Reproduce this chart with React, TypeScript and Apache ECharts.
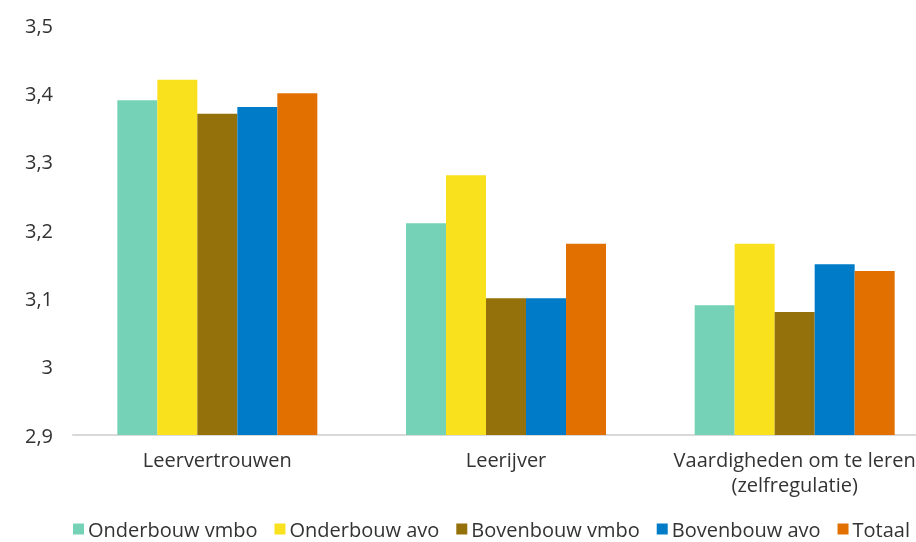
import React, { useEffect, useRef } from "react";
import * as echarts from "echarts";

const categories = ["Leervertrouwen", "Leerijver", "Vaardigheden om te leren\n(zelfregulatie)"];
const seriesNames = ["Onderbouw vmbo", "Onderbouw avo", "Bovenbouw vmbo", "Bovenbouw avo", "Totaal"];
const onderbouwVmbo = [3.39, 3.21, 3.09];
const onderbouwAvo = [3.42, 3.28, 3.18];
const bovenbouwVmbo = [3.37, 3.1, 3.08];
const bovenbouwAvo = [3.38, 3.1, 3.15];
const totaal = [3.4, 3.18, 3.14];
const yTickLabels = ["2,9", "3", "3,1", "3,2", "3,3", "3,4", "3,5"];
const colors = ["#76D2B6", "#F9E11E", "#94710A", "#007BC7", "#E17000"];

const FONT = "'Open Sans', 'Noto Sans', sans-serif";

export default function App() {
  const ref = useRef<HTMLDivElement>(null);
  useEffect(() => {
    if (!ref.current) return;
    const chart = echarts.init(ref.current, undefined, { renderer: "svg" });
    const values = [onderbouwVmbo, onderbouwAvo, bovenbouwVmbo, bovenbouwAvo, totaal];
    chart.setOption({
      animation: false,
      textStyle: { fontFamily: FONT },
      legend: {
        top: 514,
        left: 68,
        icon: "rect",
        itemWidth: 11,
        itemHeight: 11,
        itemGap: 17,
        textStyle: { fontFamily: FONT, fontSize: 20, color: "#333", padding: [0, 0, 0, -1] },
        data: seriesNames,
      },
      grid: { left: 73, top: 25, width: 866, height: 410, containLabel: false, outerBoundsMode: "none" },
      xAxis: {
        type: "category",
        data: categories,
        axisLine: { lineStyle: { color: "#d9d9d9", width: 2 } },
        axisTick: { show: false },
        axisLabel: { fontFamily: FONT, fontSize: 20, color: "#333", margin: 12, lineHeight: 25, interval: 0 },
      },
      yAxis: {
        type: "value",
        min: 2.9,
        max: 3.5,
        interval: 0.1,
        splitLine: { show: false },
        axisLine: { show: false },
        axisTick: { show: false },
        axisLabel: {
          fontFamily: FONT,
          fontSize: 20,
          color: "#333",
          margin: 20,
          formatter: (v: number) => yTickLabels[Math.round((v - 2.9) * 10)] ?? "",
        },
      },
      series: seriesNames.map((name, i) => ({
        name,
        type: "bar",
        data: values[i],
        barWidth: 40,
        barGap: "0%",
        itemStyle: { color: colors[i] },
      })),
    });
    return () => chart.dispose();
  }, []);
  return (
    <div
      ref={ref}
      style={{ position: "fixed", left: 0, top: 0, width: 916, height: 542, overflow: "hidden" }}
    />
  );
}
